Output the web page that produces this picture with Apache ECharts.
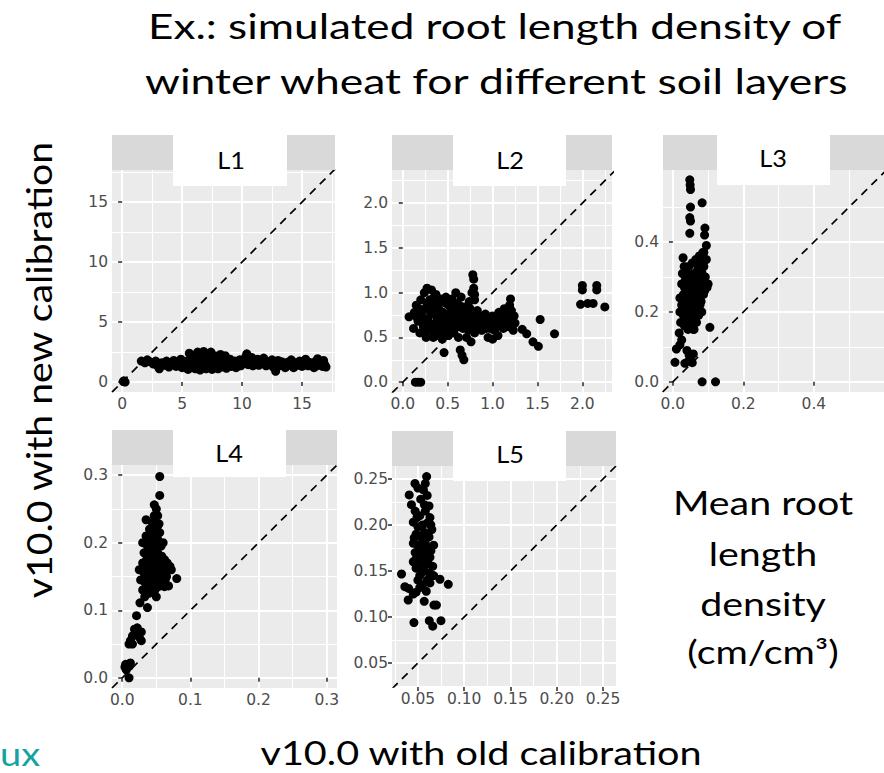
<!DOCTYPE html>
<html><head><meta charset="utf-8">
<script src="https://cdn.jsdelivr.net/npm/echarts@6/dist/echarts.min.js"></script>
<style>html,body{margin:0;padding:0;background:#fff;}#c{width:884px;height:773px;}</style>
</head><body><div id="c"></div>
<script>
const layers = ['L1','L2','L3','L4','L5'];
const ticksL1 = ['0','5','10','15'];
const ticksL2 = ['0.0','0.5','1.0','1.5','2.0'];
const ticksL3 = ['0.0','0.2','0.4'];
const ticksL4 = ['0.0','0.1','0.2','0.3'];
const ticksL5 = ['0.05','0.10','0.15','0.20','0.25'];

const pointsL1 = [[0.1,0.05],[0.25,0.0],[0.15,0.1],
[1.6,1.75],[1.9,1.6],[2.1,1.85],[2.3,1.7],
[2.6,1.5],[2.8,1.75],[3.0,1.3],[3.1,1.1],[3.3,1.6],[3.5,1.4],[3.7,1.75],[3.9,1.25],
[4.1,1.55],[4.3,1.8],[4.5,1.3],[4.7,1.6],[4.9,1.9],[5.0,1.2],[5.2,1.5],[5.4,1.75],
[5.5,1.05],[5.6,2.4],[5.7,1.35],[5.8,1.9],[6.0,1.6],[6.0,2.2],[6.1,1.1],[6.3,1.45],[6.3,2.5],[6.4,1.85],[6.5,1.0],[6.6,2.1],[6.7,1.3],[6.8,2.55],[6.9,1.65],[7.0,1.1],[7.1,2.3],[7.2,1.45],[7.3,1.9],[7.4,2.5],[7.5,1.05],[7.6,1.7],[7.7,2.2],[7.8,1.3],[7.9,1.95],[8.0,1.1],[8.1,1.55],[8.2,2.3],[8.3,1.25],[8.4,1.8],[8.5,1.4],[8.6,2.2],[8.7,1.15],[8.8,1.65],[9.0,1.9],[9.1,1.3],[9.2,1.55],[9.4,1.75],[9.5,1.2],[9.6,1.5],[9.8,1.85],[9.9,1.35],
[10.1,1.6],[10.3,2.1],[10.4,2.35],[10.5,1.45],[10.7,1.8],[10.8,2.05],[10.9,1.35],[11.1,1.65],[11.3,1.9],[11.4,1.4],[11.6,1.75],[11.8,2.0],[11.9,1.5],[12.1,1.7],[12.3,1.45],[12.5,1.85],[12.6,1.25],[12.8,0.9],[12.9,1.6],[13.1,1.35],[13.3,1.7],[13.5,1.5],[13.6,1.2],[13.8,1.65],[14.0,1.4],[14.1,1.85],[14.3,1.2],[14.5,1.6],[14.6,1.4],[14.8,1.75],[15.0,1.3],[15.1,1.55],[15.3,1.9],[15.5,1.35],[15.6,1.65],[15.8,1.45],[16.0,1.2],[16.1,1.7],[16.3,1.95],[16.4,1.45],[16.6,1.6],[16.7,1.3],[16.8,1.8],[16.9,1.45],[17.0,1.25],
[5.9,1.5],[6.2,1.3],[6.6,1.7],[7.0,1.9],[7.4,1.4],[7.8,1.6],[8.2,1.75],[6.8,2.0],[4.0,1.6],[11.0,1.55],[12.0,1.35],[13.0,1.8],[14.2,1.55],[15.2,1.45],[16.2,1.35]];

const pointsL2 = [[0.14,0.0],[0.17,0.0],[0.2,0.0],
[0.07,0.73],[0.12,0.6],[0.13,0.78],[0.15,0.86],[0.17,0.68],[0.19,0.55],[0.2,0.92],[0.21,0.75],[0.23,0.62],[0.24,1.0],[0.25,0.82],[0.26,0.5],[0.27,1.05],[0.28,0.7],[0.3,0.92],[0.3,0.58],[0.32,1.03],[0.33,0.78],[0.34,0.5],[0.35,0.65],[0.36,0.88],[0.37,0.98],[0.38,0.72],[0.39,0.55],[0.4,0.82],[0.41,0.62],[0.42,0.93],[0.43,0.7],[0.44,0.48],[0.45,0.78],[0.46,0.33],[0.47,0.58],[0.48,0.88],[0.49,0.66],[0.5,0.75],[0.51,0.52],[0.52,0.85],[0.53,0.62],[0.55,0.93],[0.56,0.7],[0.57,0.55],[0.58,0.8],[0.59,1.0],[0.6,0.65],[0.61,0.88],[0.62,0.5],[0.63,0.75],[0.64,0.36],[0.65,0.95],[0.66,0.3],[0.67,0.6],[0.68,0.25],[0.68,0.84],[0.7,0.7],[0.71,0.5],[0.72,0.78],[0.73,0.58],[0.74,0.9],[0.75,0.65],[0.76,0.45],[0.77,1.0],[0.78,1.2],[0.79,1.15],[0.79,1.05],[0.8,0.98],[0.79,0.72],[0.8,0.92],[0.8,0.55],[0.82,0.68],[0.83,0.8],[0.85,0.62],[0.86,0.74],[0.88,0.58],[0.89,0.7],[0.9,0.66],[0.92,0.76],[0.93,0.6],[0.95,0.5],[0.96,0.72],[0.98,0.65],[1.0,0.48],[1.0,0.74],[1.02,0.58],[1.04,0.7],[1.06,0.52],[1.07,0.78],[1.08,0.64],[1.1,0.72],[1.12,0.6],[1.13,0.82],[1.15,0.68],[1.16,0.76],[1.18,0.62],[1.19,0.86],[1.2,0.93],[1.22,0.72],[1.23,0.58],[1.25,0.66],[1.33,0.59],[1.38,0.54],[1.45,0.45],[1.51,0.4],[1.53,0.7],[1.69,0.54],
[0.16,0.72],[0.18,0.82],[0.22,0.68],[0.24,0.56],[0.27,0.88],[0.29,0.64],[0.31,0.76],[0.33,0.6],[0.35,0.95],[0.37,0.52],[0.39,0.86],[0.41,0.74],[0.43,0.56],[0.45,0.66],[0.47,0.72],[0.5,0.6],[0.52,0.68],[0.54,0.78],[0.56,0.6],[0.58,0.7],[0.6,0.78],[0.62,0.62],[0.64,0.85],[0.66,0.7],[0.69,0.78],[0.71,0.62],[0.73,0.7],[0.75,0.82],[0.77,0.6],[0.81,0.78],[0.84,0.7],[0.87,0.64],[0.91,0.7],[0.94,0.68],[0.97,0.6],[1.01,0.66],[1.05,0.62],[1.09,0.68],[1.14,0.74],[1.17,0.7],[1.21,0.8],[1.24,0.74],[0.56,0.85],[0.48,0.95],[0.3,0.83],
[2.0,1.08],[2.0,1.03],[2.16,1.08],[2.16,1.03],[1.98,0.87],[2.06,0.88],[2.12,0.88],[2.25,0.84]];

const pointsL3 = [[0.048,0.578],[0.049,0.563],[0.05,0.55],[0.05,0.5],[0.048,0.47],[0.05,0.46],[0.048,0.425],[0.083,0.512],[0.091,0.44],[0.09,0.42],[0.095,0.39],[0.088,0.37],[0.029,0.355],
[0.02,0.2],[0.02,0.24],[0.022,0.17],[0.025,0.28],[0.025,0.22],[0.027,0.31],[0.03,0.19],[0.03,0.25],[0.032,0.33],[0.033,0.16],[0.035,0.22],[0.035,0.29],[0.037,0.26],[0.038,0.18],[0.04,0.31],[0.04,0.21],[0.042,0.24],[0.043,0.15],[0.045,0.28],[0.045,0.33],[0.047,0.19],[0.048,0.22],[0.05,0.26],[0.05,0.3],[0.052,0.17],[0.053,0.23],[0.055,0.34],[0.055,0.2],[0.057,0.27],[0.058,0.15],[0.06,0.24],[0.06,0.31],[0.062,0.19],[0.063,0.22],[0.065,0.28],[0.065,0.35],[0.067,0.17],[0.068,0.25],[0.07,0.32],[0.07,0.21],[0.072,0.29],[0.073,0.19],[0.075,0.36],[0.075,0.25],[0.077,0.22],[0.078,0.31],[0.08,0.27],[0.08,0.34],[0.082,0.2],[0.085,0.37],[0.085,0.29],[0.088,0.33],[0.09,0.26],[0.092,0.3],[0.1,0.28],[0.097,0.27],[0.095,0.35],
[0.028,0.24],[0.033,0.27],[0.038,0.3],[0.043,0.27],[0.048,0.3],[0.053,0.28],[0.058,0.3],[0.063,0.26],[0.068,0.3],[0.073,0.33],[0.078,0.28],[0.083,0.31],[0.03,0.22],[0.04,0.18],[0.05,0.2],[0.06,0.21],[0.07,0.24],[0.08,0.23],[0.087,0.25],[0.045,0.23],[0.055,0.25],[0.065,0.23],[0.035,0.19],
[0.105,0.156],[0.018,0.14],[0.02,0.106],[0.025,0.12],[0.01,0.094],[0.006,0.056],[0.034,0.053],[0.046,0.077],[0.05,0.068],[0.055,0.055],[0.04,0.09],[0.045,0.06],[0.06,0.15],[0.083,0.0],[0.121,0.0],[0.058,0.08]];

const pointsL4 = [[0.055,0.298],[0.055,0.27],[0.047,0.256],[0.05,0.25],[0.035,0.234],[0.052,0.24],[0.048,0.232],[0.054,0.228],
[0.03,0.2],[0.032,0.185],[0.035,0.21],[0.037,0.195],[0.04,0.22],[0.042,0.2],[0.044,0.23],[0.046,0.215],[0.048,0.2],[0.05,0.22],[0.052,0.205],[0.055,0.215],[0.057,0.195],[0.06,0.2],[0.058,0.18],
[0.025,0.16],[0.027,0.145],[0.03,0.17],[0.032,0.155],[0.034,0.14],[0.036,0.175],[0.038,0.16],[0.04,0.185],[0.041,0.145],[0.043,0.17],[0.045,0.155],[0.047,0.18],[0.049,0.165],[0.05,0.145],[0.052,0.185],[0.054,0.16],[0.056,0.17],[0.058,0.15],[0.06,0.165],[0.062,0.175],[0.064,0.16],[0.066,0.17],[0.068,0.163],[0.07,0.165],[0.072,0.16],[0.065,0.15],
[0.033,0.165],[0.039,0.15],[0.044,0.19],[0.046,0.165],[0.051,0.175],[0.053,0.195],[0.057,0.16],[0.059,0.175],[0.061,0.15],[0.045,0.205],[0.05,0.21],[0.054,0.2],[0.038,0.205],[0.043,0.21],[0.047,0.24],[0.052,0.225],[0.041,0.16],[0.035,0.15],[0.055,0.15],[0.063,0.145],
[0.03,0.13],[0.033,0.12],[0.036,0.135],[0.039,0.125],[0.042,0.13],[0.045,0.14],[0.048,0.13],[0.05,0.12],[0.053,0.135],[0.056,0.14],[0.06,0.14],[0.068,0.136],[0.08,0.147],[0.062,0.135],
[0.037,0.104],[0.026,0.111],[0.021,0.092],
[0.012,0.055],[0.015,0.062],[0.02,0.066],[0.018,0.072],[0.025,0.06],[0.028,0.055],[0.01,0.05],[0.022,0.074],[0.028,0.068],[0.015,0.05],
[0.005,0.02],[0.006,0.012],[0.01,0.017],[0.012,0.022],[0.004,0.016],[0.01,0.0]];

const pointsL5 = [[0.0594,0.2525],[0.058,0.245],[0.0468,0.245],[0.0406,0.2326],[0.06,0.232],[0.062,0.2206],[0.043,0.222],[0.056,0.238],[0.05,0.24],
[0.047,0.215],[0.052,0.21],[0.058,0.215],[0.063,0.208],[0.045,0.203],[0.05,0.198],[0.055,0.2],[0.06,0.202],[0.065,0.195],[0.048,0.19],[0.053,0.188],[0.057,0.192],[0.062,0.187],[0.045,0.18],[0.05,0.178],[0.055,0.182],[0.06,0.175],[0.067,0.178],[0.047,0.17],[0.052,0.168],[0.058,0.17],[0.063,0.165],[0.045,0.16],[0.05,0.162],[0.055,0.158],[0.061,0.158],[0.066,0.155],[0.048,0.153],[0.056,0.153],[0.062,0.148],[0.067,0.145],[0.052,0.145],
[0.053,0.228],[0.057,0.222],[0.049,0.208],[0.064,0.2],[0.046,0.186],[0.058,0.18],[0.064,0.172],[0.053,0.175],[0.048,0.163],[0.059,0.163],[0.054,0.148],
[0.0323,0.1467],[0.0359,0.133],[0.04,0.131],[0.0395,0.1185],[0.0457,0.094],[0.0568,0.117],[0.0623,0.096],[0.0673,0.113],[0.07,0.113],[0.066,0.09],[0.0749,0.096],[0.0828,0.1355],[0.0738,0.141],[0.063,0.137],[0.048,0.127],[0.052,0.132],[0.05,0.14],[0.055,0.135],[0.06,0.14],[0.045,0.125],[0.059,0.128]];

const titleLines = ['Ex.: simulated root length density of', 'winter wheat for different soil layers'];
const yTitle = 'v10.0 with new calibration';
const xTitle = 'v10.0 with old calibration';
const noteLines = ['Mean root', 'length', 'density', '(cm/cm\u00B3)'];
const logoText = 'ux';

// layout (pixels) and scale ranges
const panels = [
  {name: layers[0], data: pointsL1, ticks: ticksL1, xr: [-0.845, 17.75], yr: [-0.83, 17.67], step: 5, split: 4, left: 112, top: 170, width: 223, height: 222},
  {name: layers[1], data: pointsL2, ticks: ticksL2, xr: [-0.12, 2.33], yr: [-0.11, 2.37], step: 0.5, split: 5, left: 392, top: 170, width: 220, height: 222},
  {name: layers[2], data: pointsL3, ticks: ticksL3, xr: [-0.028, 0.599], yr: [-0.029, 0.606], step: 0.2, split: 3, left: 663, top: 170, width: 221, height: 222},
  {name: layers[3], data: pointsL4, ticks: ticksL4, xr: [-0.015, 0.315], yr: [-0.015, 0.315], step: 0.1, split: 3, left: 112, top: 465, width: 225, height: 223},
  {name: layers[4], data: pointsL5, ticks: ticksL5, xr: [0.022, 0.264], yr: [0.024, 0.264], step: 0.05, split: 5, left: 392, top: 466, width: 224, height: 221}
];
const boxes = [
  {x: 173, y: 135, w: 114, h: 51, lx: 231, ly: 160},
  {x: 453, y: 135, w: 113, h: 51, lx: 510, ly: 160},
  {x: 717, y: 135, w: 113, h: 50, lx: 773, ly: 158},
  {x: 173, y: 430, w: 113, h: 47, lx: 229, ly: 453},
  {x: 453, y: 430, w: 113, h: 51, lx: 510, ly: 454}
];

const tickFont = 'DejaVu Sans';
function axisCfg(p, i, vals, labels) {
  return {
    gridIndex: i, type: 'value', splitNumber: p.split, minInterval: p.step, maxInterval: p.step,
    axisLine: {show: false},
    axisTick: {show: true, length: 4, lineStyle: {color: '#333333', width: 1.6}, customValues: vals},
    axisLabel: {customValues: vals, color: '#4D4D4D', fontSize: 15.5, fontFamily: tickFont, margin: 4,
      formatter: v => { const k = vals.findIndex(t => Math.abs(t - v) < 1e-9); return k >= 0 ? labels[k] : ''; }},
    splitLine: {show: true, lineStyle: {color: '#FFFFFF', width: 2}},
    minorTick: {show: false, splitNumber: 2},
    minorSplitLine: {show: true, lineStyle: {color: '#FFFFFF', width: 1}}
  };
}

const grids = [], xAxes = [], yAxes = [], series = [], graphics = [];
panels.forEach((p, i) => {
  const vals = p.ticks.map(Number);
  grids.push({left: p.left, top: p.top, width: p.width, height: p.height, show: true, backgroundColor: '#EBEBEB', borderWidth: 0});
  xAxes.push(Object.assign(axisCfg(p, i, vals, p.ticks), {min: p.xr[0], max: p.xr[1]}));
  yAxes.push(Object.assign(axisCfg(p, i, vals, p.ticks), {min: p.yr[0], max: p.yr[1]}));
  series.push({type: 'scatter', xAxisIndex: i, yAxisIndex: i, data: p.data, symbolSize: 9, itemStyle: {color: '#000000', opacity: 1}, silent: true, z: 3});
  const lo = Math.min(p.xr[0], p.yr[0]), hi = Math.max(p.xr[1], p.yr[1]);
  series.push({type: 'line', xAxisIndex: i, yAxisIndex: i, data: [[lo, lo], [hi, hi]], symbol: 'none', clip: true, silent: true, z: 4,
    lineStyle: {color: '#000000', width: 1.7, type: [8, 6]}});
  graphics.push({type: 'rect', z: 50, shape: {x: p.left, y: p.top - 35, width: p.width, height: 35}, style: {fill: '#D9D9D9'}});
  const b = boxes[i];
  graphics.push({type: 'rect', z: 60, shape: {x: b.x, y: b.y, width: b.w, height: b.h}, style: {fill: '#FFFFFF'}});
  graphics.push({type: 'text', z: 70, x: b.lx, y: b.ly, scaleX: 1.1, style: {text: p.name, font: '23px Lato', fill: '#000', textAlign: 'center', textVerticalAlign: 'middle'}});
});

const bigFont = 'Lato';
function txt(t, x, y, size, sx, align, extra) {
  return Object.assign({type: 'text', z: 70, x: x, y: y, scaleX: sx,
    style: {text: t, font: size + 'px ' + bigFont, fill: '#000', textAlign: align, textVerticalAlign: 'middle'}}, extra || {});
}
graphics.push(txt(titleLines[0], 148, 25.5, 35, 1.26, 'left'));
graphics.push(txt(titleLines[1], 145, 80.5, 35, 1.27, 'left'));
graphics.push(txt(yTitle, 39, 370, 34, 1.155, 'center', {rotation: Math.PI / 2}));
graphics.push(txt(xTitle, 481, 752, 33, 1.2, 'center'));
const logo = txt(logoText, 0, 753, 33, 1.15, 'left');
logo.style.fill = '#14A3A3';
graphics.push(logo);
const noteY = [503, 554, 604, 652];
noteLines.forEach((t, k) => graphics.push(txt(t, 763, noteY[k], 32, 1.23, 'center')));

const chart = echarts.init(document.getElementById('c'), null, {renderer: 'svg'});
chart.setOption({animation: false, backgroundColor: '#FFFFFF', grid: grids, xAxis: xAxes, yAxis: yAxes, series: series, graphic: graphics});
</script></body></html>
